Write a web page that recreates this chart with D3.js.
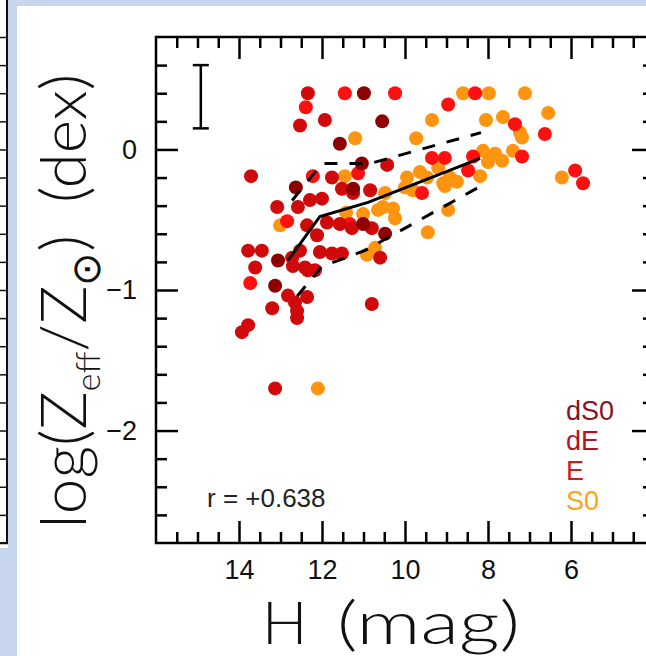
<!DOCTYPE html>
<html>
<head>
<meta charset="utf-8">
<script src="https://cdn.jsdelivr.net/npm/d3@7"></script>
<style>
  html, body { margin: 0; padding: 0; background: #c7d5ee; }
  svg { display: block; }
</style>
</head>
<body>
<div id="container"></div>
<script>
// Values

// dS0 galaxies (dark red)
const hDS0 = [10.99, 10.55, 11.57, 12.63, 11.04, 13.06, 13.13, 11.01, 11.25, 10.48];
const zDS0 = [0.40, 0.20, 0.04, -0.27, -0.10, -0.79, -0.97, -0.53, -0.28, -0.60];

// dE galaxies (red)
const hDE = [12.34, 11.93, 12.53, 13.71, 11.76, 11.52, 13.08, 12.58, 12.29, 12.00,
  12.36, 11.88, 11.57, 13.78, 13.45, 13.61, 12.72, 12.53, 12.05, 11.76,
  11.52, 12.34, 12.17, 12.70, 12.41, 12.82, 12.65, 12.36, 13.20, 12.60,
  12.60, 13.78, 13.93, 10.80, 13.13, 10.84, 11.25, 12.12, 10.60, 10.80,
  11.28, 10.43];
const zDE = [0.40, 0.21, 0.17, -0.19, -0.20, -0.28, -0.41, -0.41, -0.36, -0.35,
  -0.54, -0.52, -0.53, -0.72, -0.72, -0.84, -0.77, -0.72, -0.73, -0.74,
  -0.74, -0.86, -0.86, -0.83, -0.84, -1.04, -1.09, -1.05, -1.13, -1.15,
  -1.20, -1.25, -1.30, -1.10, -1.70, -0.29, -0.31, -0.61, -0.77, -0.56,
  -0.56, -0.11];

// E galaxies (bright red)
const hE = [11.45, 10.24, 12.39, 12.22, 11.13, 12.84, 11.33, 13.73, 8.96, 8.31,
  7.35, 6.63, 9.35, 9.04, 8.36, 7.18, 8.48, 9.59, 5.90, 5.71];
const zE = [0.40, 0.40, 0.30, -0.19, -0.17, -0.51, -0.53, -0.95, 0.32, 0.40,
  0.18, 0.11, -0.06, -0.06, -0.05, -0.05, -0.15, -0.31, -0.15, -0.24];

// S0 galaxies (orange)
const hS0 = [11.20, 11.45, 13.01, 11.42, 10.65, 10.29, 10.24, 10.92, 10.72, 12.10,
  8.60, 7.98, 7.11, 6.55, 9.35, 8.05, 7.64, 7.23, 7.18, 9.73,
  8.12, 7.83, 7.66, 7.40, 8.19, 9.95, 9.64, 9.20, 8.92, 9.08,
  8.75, 9.81, 10.53, 8.96, 6.22, 9.45, 11.01, 10.00, 9.04, 10.48,
  8.00, 9.47];
const zS0 = [0.08, -0.19, -0.54, -0.45, -0.43, -0.42, -0.49, -0.75, -0.70, -1.70,
  0.40, 0.40, 0.40, 0.26, 0.21, 0.21, 0.23, 0.12, 0.085, 0.08,
  -0.01, -0.03, -0.08, -0.01, -0.19, -0.20, -0.16, -0.13, -0.20, -0.24,
  -0.23, -0.29, -0.41, -0.43, -0.20, -0.59, -0.46, -0.27, -0.26, -0.31,
  -0.09, -0.20];

// running median and its scatter
const medH = [12.82, 12.05, 10.89, 8.19];
const medZ = [-0.79, -0.477, -0.377, -0.064];
const upH = [12.72, 12.0, 10.84, 8.17];
const upZ = [-0.363, -0.10, -0.10, 0.12];
const loH = [12.60, 12.0, 10.96, 8.19];
const loZ = [-1.045, -0.832, -0.718, -0.263];

// typical error bar
const errH = 14.92, errLo = 0.15, errHi = 0.60;

const xMajor = [14, 12, 10, 8, 6];
const yMajor = [0, -1, -2];
const types = ["dS0", "dE", "E", "S0"];
const dotColors = { dS0: "#8e0000", dE: "#d00a0a", E: "#ff1010", S0: "#ff9410" };
const textColors = { dS0: "#8b1020", dE: "#b0141c", E: "#cc1c1c", S0: "#ffa21c" };
const corrText = "r = +0.638";

const width = 646, height = 656;
const svg = d3.create("svg").attr("width", width).attr("height", height);
container.append(svg.node());

// page background and the white slide area
svg.append("rect").attr("width", width).attr("height", height).attr("fill", "#c7d5ee");
svg.append("rect").attr("x", 17).attr("y", 6).attr("width", width - 17).attr("height", height - 6).attr("fill", "white");

// plot box
const m = { left: 156, top: 37, right: 654, bottom: 543 };
const x = d3.scaleLinear().domain([16, 4]).range([m.left, m.right]);
const y = d3.scaleLinear().domain([-2.8, 0.8]).range([m.bottom, m.top]);

// sliver of the neighbouring panel on the left
svg.append("rect").attr("x", 0).attr("y", 0).attr("width", 8).attr("height", 548).attr("fill", "white");
svg.append("g")
  .attr("transform", "translate(8,0)")
  .call(d3.axisLeft(y).tickValues(d3.range(-2.8, 0.81, 0.2)).tickSize(8).tickFormat(""))
  .call(g => g.select(".domain").remove())
  .call(g => g.selectAll("text").remove())
  .selectAll("line").attr("stroke", "#111").attr("stroke-width", 1.5);
svg.append("line").attr("x1", 7).attr("x2", 7).attr("y1", 0).attr("y2", m.bottom)
  .attr("stroke", "#111").attr("stroke-width", 2);
svg.append("line").attr("x1", 0).attr("x2", 8).attr("y1", m.bottom).attr("y2", m.bottom)
  .attr("stroke", "#111").attr("stroke-width", 2);

const xMinor = d3.range(4.5, 16, 0.5).filter(v => !xMajor.includes(v));
const yMinor = d3.range(-2.6, 0.8, 0.2).map(v => +v.toFixed(1)).filter(v => !yMajor.includes(v));

const font = "'Liberation Sans', Arial, Helvetica, sans-serif";

function styleTicks(g) {
  g.select(".domain").remove();
  g.selectAll("line").attr("stroke", "black").attr("stroke-width", 2.5);
}
// tick-only axes carry no labels
function bare(g) {
  styleTicks(g);
  g.selectAll("text").remove();
}

// bottom axis
svg.append("g").attr("transform", `translate(0,${m.bottom})`)
  .call(d3.axisBottom(x).tickValues(xMinor).tickSize(-11)).call(bare);
svg.append("g").attr("transform", `translate(0,${m.bottom})`)
  .call(d3.axisBottom(x).tickValues(xMajor).tickSize(-22).tickPadding(17).tickFormat(d3.format("d")))
  .call(styleTicks)
  .selectAll("text").attr("font-family", font).attr("font-size", 27).attr("fill", "#111");
// top axis
svg.append("g").attr("transform", `translate(0,${m.top})`)
  .call(d3.axisTop(x).tickValues(xMinor).tickSize(-11)).call(bare);
svg.append("g").attr("transform", `translate(0,${m.top})`)
  .call(d3.axisTop(x).tickValues(xMajor).tickSize(-22)).call(bare);
// left axis
svg.append("g").attr("transform", `translate(${m.left},0)`)
  .call(d3.axisLeft(y).tickValues(yMinor).tickSize(-11)).call(bare);
svg.append("g").attr("transform", `translate(${m.left},0)`)
  .call(d3.axisLeft(y).tickValues(yMajor).tickSize(-22).tickPadding(19).tickFormat(d3.format("d")))
  .call(styleTicks)
  .selectAll("text").attr("font-family", font).attr("font-size", 27).attr("fill", "#111");
// right axis
svg.append("g").attr("transform", `translate(${m.right},0)`)
  .call(d3.axisRight(y).tickValues(yMinor).tickSize(-11)).call(bare);
svg.append("g").attr("transform", `translate(${m.right},0)`)
  .call(d3.axisRight(y).tickValues(yMajor).tickSize(-22)).call(bare);

// frame
svg.append("rect")
  .attr("x", m.left).attr("y", m.top)
  .attr("width", m.right - m.left).attr("height", m.bottom - m.top)
  .attr("fill", "none").attr("stroke", "black").attr("stroke-width", 2.5);

// points, orange first so the reds sit on top
const series = [
  ["S0", hS0, zS0],
  ["E", hE, zE],
  ["dE", hDE, zDE],
  ["dS0", hDS0, zDS0]
];
series.forEach(([t, hs, zs]) => {
  svg.append("g").selectAll("circle")
    .data(hs.map((h, i) => [h, zs[i]]))
    .join("circle")
    .attr("cx", d => x(d[0]))
    .attr("cy", d => y(d[1]))
    .attr("r", 7)
    .attr("fill", dotColors[t]);
});

// median line and scatter envelope
const line = d3.line().x(d => x(d[0])).y(d => y(d[1]));
svg.append("path").datum(medH.map((h, i) => [h, medZ[i]]))
  .attr("d", line).attr("fill", "none").attr("stroke", "black").attr("stroke-width", 3);
[[upH, upZ], [loH, loZ]].forEach(([hs, zs]) => {
  svg.append("path").datum(hs.map((h, i) => [h, zs[i]]))
    .attr("d", line).attr("fill", "none").attr("stroke", "black")
    .attr("stroke-width", 3).attr("stroke-dasharray", "13,12");
});

// error bar
const eb = svg.append("g").attr("stroke", "black").attr("stroke-width", 2.5);
eb.append("line").attr("x1", x(errH)).attr("x2", x(errH)).attr("y1", y(errLo)).attr("y2", y(errHi));
eb.append("line").attr("x1", x(errH) - 8).attr("x2", x(errH) + 8).attr("y1", y(errLo)).attr("y2", y(errLo));
eb.append("line").attr("x1", x(errH) - 8).attr("x2", x(errH) + 8).attr("y1", y(errHi)).attr("y2", y(errHi));

// correlation coefficient
svg.append("text")
  .attr("x", 207).attr("y", 507)
  .attr("font-family", font).attr("font-size", 26).attr("fill", "#222")
  .text(corrText);

// legend
svg.append("g").selectAll("text")
  .data(types)
  .join("text")
  .attr("x", 566)
  .attr("y", (d, i) => 420 + i * 30)
  .attr("font-family", font).attr("font-size", 27)
  .attr("fill", d => textColors[d])
  .text(d => d);

// axis titles
const titleFont = "Lato, 'DejaVu Sans', sans-serif";
svg.append("text")
  .attr("x", 262).attr("y", 644)
  .attr("font-family", titleFont).attr("font-weight", 300).attr("font-size", 60)
  .attr("fill", "#111")
  .text("H");
svg.append("text")
  .attr("x", 337).attr("y", 644)
  .attr("font-family", titleFont).attr("font-weight", 300).attr("font-size", 60)
  .attr("textLength", 183).attr("lengthAdjust", "spacingAndGlyphs")
  .attr("fill", "#111")
  .text("(mag)");

const yt = svg.append("text")
  .attr("transform", "translate(86,301) rotate(-90)")
  .attr("text-anchor", "middle")
  .attr("font-family", titleFont).attr("font-weight", 300).attr("font-size", 64)
  .attr("fill", "#111");
yt.append("tspan").text("log(Z");
yt.append("tspan").attr("dy", 14).attr("font-size", 34).text("eff");
yt.append("tspan").attr("dy", -14).text("/Z");
yt.append("tspan").attr("dy", 14).attr("font-size", 40).text("\u2299");
yt.append("tspan").attr("dy", -14).text(")\u2002(dex)");
</script>
</body>
</html>
